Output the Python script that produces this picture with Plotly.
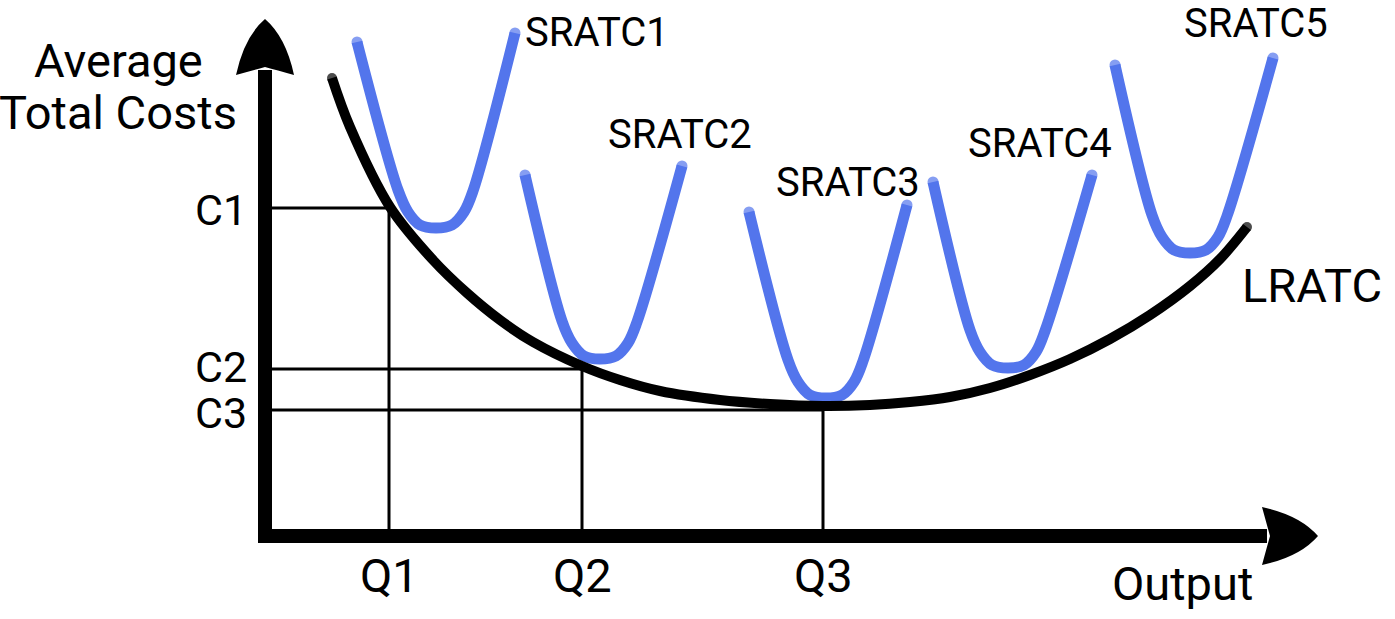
import plotly.graph_objects as go

# ---- data (output units on x, cost units on y) ----
lratc_q = [6.7, 8.5, 12.5, 16.8, 20.2, 23.5, 26.8, 31.7, 35.5, 39.5, 45.5, 50.5, 55.8,
           60.5, 64.5, 68.5, 72.5, 76.5, 80.5, 84.5, 88.5, 92.5, 95.5, 98.2]
lratc_c = [45.8, 40.9, 32.9, 27.6, 24.3, 21.6, 19.4, 17.0, 15.6, 14.5, 13.6, 13.2, 13.0,
           13.1, 13.4, 13.9, 14.8, 16.1, 17.7, 19.7, 22.1, 25.0, 27.7, 30.9]

sratc1_q = [9.2, 13.3, 14.3, 15.5, 17.1, 18.7, 19.9, 20.8, 25.0]
sratc1_c = [49.4, 34.6, 32.4, 31.1, 30.8, 31.1, 32.4, 34.5, 50.3]
sratc2_q = [26.0, 29.7, 30.7, 31.9, 33.5, 35.1, 36.3, 37.2, 41.7]
sratc2_c = [36.1, 21.5, 19.3, 18.0, 17.7, 18.0, 19.3, 21.4, 37.0]
sratc3_q = [48.4, 52.3, 53.3, 54.5, 56.1, 57.7, 58.9, 59.8, 64.2]
sratc3_c = [32.4, 17.6, 15.4, 14.1, 13.8, 14.1, 15.4, 17.5, 33.1]
sratc4_q = [66.8, 70.5, 71.5, 72.7, 74.3, 75.9, 77.1, 78.0, 82.7]
sratc4_c = [35.4, 20.6, 18.4, 17.1, 16.8, 17.1, 18.4, 20.5, 36.1]
sratc5_q = [85.0, 88.7, 89.7, 90.9, 92.5, 94.1, 95.3, 96.2, 100.8]
sratc5_c = [47.1, 32.1, 29.9, 28.6, 28.3, 28.6, 29.9, 32.0, 47.8]

sratc_names = ["SRATC1", "SRATC2", "SRATC3", "SRATC4", "SRATC5"]
sratc_label_q = [25.9, 34.2, 51.0, 70.2, 91.8]
sratc_label_c = [50.4, 40.2, 35.4, 39.3, 51.3]

q_labels = ["Q1", "Q2", "Q3"]
q_values = [12.4, 31.7, 55.8]
c_labels = ["C1", "C2", "C3"]
c_values = [32.8, 16.7, 12.6]

x_axis_end = 105.3
y_axis_end = 51.7

# ---- figure ----
BLUE = "#5375ec"
FONT = "Roboto"
fig = go.Figure()

sratc_q = [sratc1_q, sratc2_q, sratc3_q, sratc4_q, sratc5_q]
sratc_c = [sratc1_c, sratc2_c, sratc3_c, sratc4_c, sratc5_c]
for name, qs, cs in zip(sratc_names, sratc_q, sratc_c):
    sizes = [11] + [0] * (len(qs) - 2) + [11]
    fig.add_trace(go.Scatter(x=qs, y=cs, mode="lines+markers", name=name,
                             line=dict(color=BLUE, width=11, shape="spline", smoothing=1.0),
                             marker=dict(color=BLUE, size=sizes, line=dict(width=0)),
                             hoverinfo="skip"))

lsz = [10] + [0] * (len(lratc_q) - 2) + [10]
fig.add_trace(go.Scatter(x=lratc_q, y=lratc_c, mode="lines+markers", name="LRATC",
                         line=dict(color="black", width=10, shape="spline", smoothing=1.0),
                         marker=dict(color="black", size=lsz, line=dict(width=0)),
                         hoverinfo="skip"))

shapes = []
# guide lines
for q, c in zip(q_values, c_values):
    shapes.append(dict(type="line", x0=0, x1=q, y0=c, y1=c, layer="below",
                       line=dict(color="black", width=3)))
    shapes.append(dict(type="line", x0=q, x1=q, y0=0, y1=c, layer="below",
                       line=dict(color="black", width=3)))

# axes with arrowheads
head_len = 5.6
head_w = 2.9
notch = 0.8
shaft_w = 14
shapes.append(dict(type="line", x0=-0.7, x1=x_axis_end - head_len + 0.5, y0=0, y1=0,
                   line=dict(color="black", width=shaft_w)))
shapes.append(dict(type="line", x0=0, x1=0, y0=-0.7, y1=y_axis_end - head_len + 0.5,
                   line=dict(color="black", width=shaft_w)))

# vertical arrowhead
tx, ty = 0, y_axis_end
by = ty - head_len
vpath = (f"M {tx},{ty} Q {tx - head_w * 0.72},{ty - head_len * 0.32} {tx - head_w},{by} "
         f"Q {tx - head_w * 0.4},{by + notch * 0.6} {tx},{by + notch} "
         f"Q {tx + head_w * 0.4},{by + notch * 0.6} {tx + head_w},{by} "
         f"Q {tx + head_w * 0.72},{ty - head_len * 0.32} {tx},{ty} Z")
shapes.append(dict(type="path", path=vpath, fillcolor="black", line=dict(width=0)))
# horizontal arrowhead
tx, ty = x_axis_end, 0
bx = tx - head_len
hpath = (f"M {tx},{ty} Q {tx - head_len * 0.32},{ty + head_w * 0.72} {bx},{ty + head_w} "
         f"Q {bx + notch * 0.6},{ty + head_w * 0.4} {bx + notch},{ty} "
         f"Q {bx + notch * 0.6},{ty - head_w * 0.4} {bx},{ty - head_w} "
         f"Q {tx - head_len * 0.32},{ty - head_w * 0.72} {tx},{ty} Z")
shapes.append(dict(type="path", path=hpath, fillcolor="black", line=dict(width=0)))

ann = []
BIG = 47
SMALL = 40
for name, q, c in zip(sratc_names, sratc_label_q, sratc_label_c):
    ann.append(dict(x=q, y=c, text=name, xanchor="left", yanchor="middle", showarrow=False,
                    borderpad=0, font=dict(family=FONT, size=SMALL, color="black")))
ann.append(dict(x=97.5, y=25.1, text="LRATC", xanchor="left", yanchor="middle", showarrow=False,
                font=dict(family=FONT, size=BIG, color="black")))
ann.append(dict(x=84.5, y=-4.7, text="Output", xanchor="left", yanchor="middle", showarrow=False,
                font=dict(family=FONT, size=BIG, color="black")))
for lab, q in zip(q_labels, q_values):
    ann.append(dict(x=q, y=-3.9, text=lab, xanchor="center", yanchor="middle", showarrow=False,
                    font=dict(family=FONT, size=BIG, color="black")))
c_shift = [-2, 2, -3]
for lab, c, s in zip(c_labels, c_values, c_shift):
    ann.append(dict(x=-1.7, y=c, text=lab, xanchor="right", yanchor="middle", showarrow=False,
                    yshift=s, borderpad=0,
                    font=dict(family=FONT, size=43, color="black")))
ann.append(dict(x=-14.7, y=47.6, text="Average", xanchor="center", yanchor="middle",
                showarrow=False, font=dict(family=FONT, size=BIG, color="black")))
ann.append(dict(x=-14.7, y=42.4, text="Total Costs", xanchor="center", yanchor="middle",
                showarrow=False, font=dict(family=FONT, size=BIG, color="black")))

fig.update_layout(
    width=1395, height=619,
    margin=dict(l=0, r=0, t=0, b=0),
    paper_bgcolor="white", plot_bgcolor="white",
    showlegend=False,
    xaxis=dict(range=[-26.5, 113.0], visible=False, fixedrange=True),
    yaxis=dict(range=[-8.3, 53.6], visible=False, fixedrange=True),
    shapes=shapes, annotations=ann,
)

fig.write_html("out.html", config={"displayModeBar": False},
               post_script="document.body.style.margin='0';")
